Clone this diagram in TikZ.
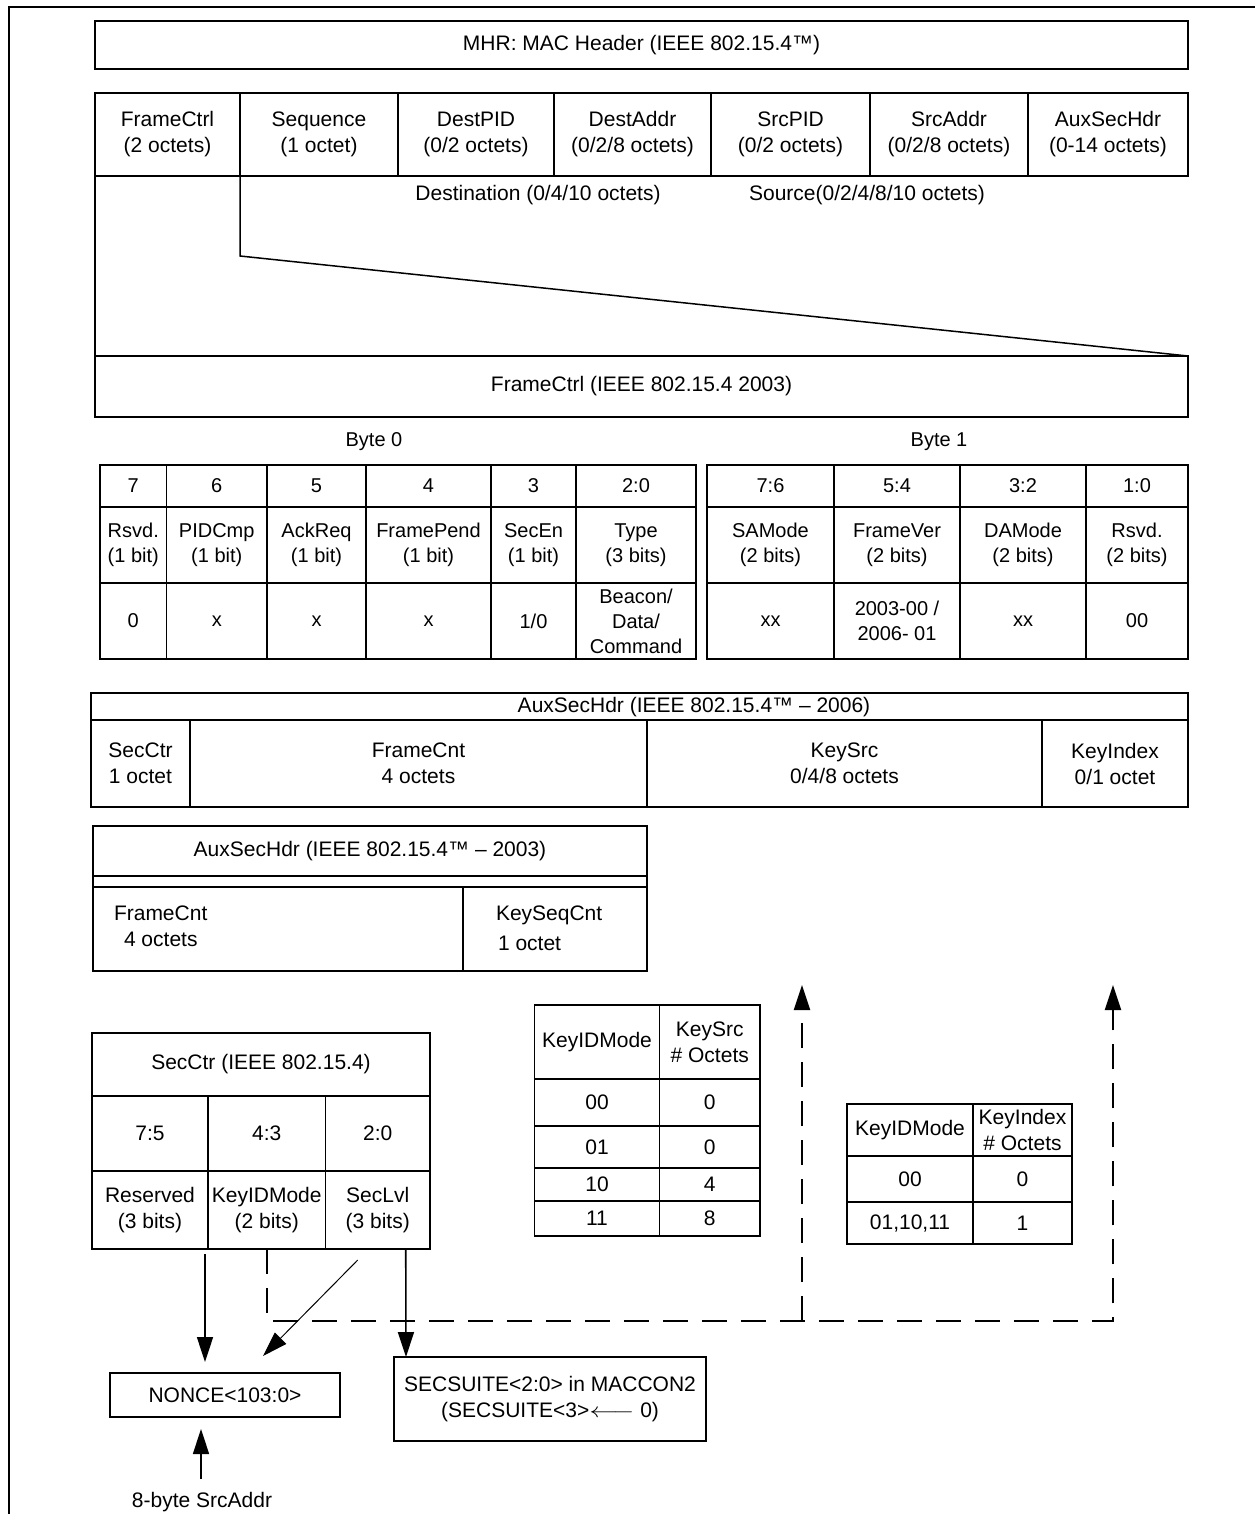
\documentclass[tikz,border=0pt]{standalone}
\usepackage{fontspec}
\setmainfont{Liberation Sans}
\usetikzlibrary{arrows.meta,calc}
\newcommand\fsz{\fontsize{21}{26}\selectfont}
\newcommand\fsb{\fontsize{20}{25}\selectfont}
\tikzset{
  box/.style={draw, line width=1.8pt, inner sep=0pt, outer sep=0pt, align=center, font=\fsz},
  bbox/.style={box, font=\fsb},
  txt/.style={inner sep=0pt, outer sep=0pt, font=\fsz, align=center},
  frame/.style={line width=2pt},
  link/.style={line width=1.5pt},
  arr/.style={line width=1.6pt, -{Triangle[length=25pt,width=16pt]}},
  arrthin/.style={line width=1pt, -{Triangle[length=25pt,width=16pt]}},
  dsh/.style={line width=2pt, dash pattern=on 25pt off 14pt, -{Triangle[length=25pt,width=16pt]}}
}
% [opt]{x1}{y1}{x2}{y2}{name}{text}
\newcommand\cellat[7][]{%
  \pgfmathsetmacro\cellw{#4-#2}%
  \pgfmathsetmacro\cellh{#5-#3}%
  \pgfmathsetmacro\cellx{(#2+#4)/2}%
  \pgfmathsetmacro\celly{(#3+#5)/2}%
  \node[box, minimum width=\cellw pt, minimum height=\cellh pt, #1] (#6) at (\cellx,\celly) {#7};}
\newcommand\larrow{\smash{\scalebox{1.35}[1]{$\longleftarrow$}}}
\begin{document}
\begin{tikzpicture}[x=1pt, y=-1pt]
\useasboundingbox (0,0) rectangle (1255,1514);
% outer frame (top and left)
\draw[frame] (9,1514) -- (9,7) -- (1255,7);

% MAC header
\cellat{95}{21}{1188}{69}{mhr}{MHR: MAC Header (IEEE 802.15.4™)}
\cellat{95}{93}{240}{176}{fFC}{FrameCtrl\\(2 octets)}
\cellat{240}{93}{398}{176}{fSeq}{Sequence\\(1 octet)}
\cellat{398}{93}{554}{176}{fDPID}{DestPID\\(0/2 octets)}
\cellat{554}{93}{711}{176}{fDA}{DestAddr\\(0/2/8 octets)}
\cellat{711}{93}{870}{176}{fSPID}{SrcPID\\(0/2 octets)}
\cellat{870}{93}{1028}{176}{fSA}{SrcAddr\\(0/2/8 octets)}
\cellat{1028}{93}{1188}{176}{fAux}{AuxSecHdr\\(0-14 octets)}
\node[txt] (dest) at (538,195) {Destination (0/4/10 octets)};
\node[txt] (srcl) at (867,195) {Source(0/2/4/8/10 octets)};

\cellat{95}{356}{1188}{417}{fc03}{FrameCtrl (IEEE 802.15.4 2003)}
\draw[link] (fFC.south west) -- (fc03.north west);
\draw[link] (fFC.south east) -- ++(0,80) -- (fc03.north east);

% Byte 0
\node[txt, font=\fsb] (b0) at (374,442) {Byte 0};
\cellat[bbox]{100}{465}{166.5}{507}{b0c7}{7}
\cellat[bbox]{166.5}{465}{267}{507}{b0c6}{6}
\cellat[bbox]{267}{465}{366}{507}{b0c5}{5}
\cellat[bbox]{366}{465}{491}{507}{b0c4}{4}
\cellat[bbox]{491}{465}{576}{507}{b0c3}{3}
\cellat[bbox]{576}{465}{696}{507}{b0c2}{2:0}
\cellat[bbox]{100}{507}{166.5}{583}{b0n7}{Rsvd.\\(1 bit)}
\cellat[bbox]{166.5}{507}{267}{583}{b0n6}{PIDCmp\\(1 bit)}
\cellat[bbox]{267}{507}{366}{583}{b0n5}{AckReq\\(1 bit)}
\cellat[bbox]{366}{507}{491}{583}{b0n4}{FramePend\\(1 bit)}
\cellat[bbox]{491}{507}{576}{583}{b0n3}{SecEn\\(1 bit)}
\cellat[bbox]{576}{507}{696}{583}{b0n2}{Type\\(3 bits)}
\cellat[bbox]{100}{583}{166.5}{659}{b0v7}{0}
\cellat[bbox]{166.5}{583}{267}{659}{b0v6}{x}
\cellat[bbox]{267}{583}{366}{659}{b0v5}{x}
\cellat[bbox]{366}{583}{491}{659}{b0v4}{x}
\cellat[bbox]{491}{583}{576}{659}{b0v3}{1/0}
\cellat[bbox]{576}{583}{696}{659}{b0v2}{Beacon/\\Data/\\Command}

% Byte 1
\node[txt, font=\fsb] (b1) at (939,442) {Byte 1};
\cellat[bbox]{707}{465}{834}{507}{b1c76}{7:6}
\cellat[bbox]{834}{465}{960}{507}{b1c54}{5:4}
\cellat[bbox]{960}{465}{1086}{507}{b1c32}{3:2}
\cellat[bbox]{1086}{465}{1188}{507}{b1c10}{1:0}
\cellat[bbox]{707}{507}{834}{583}{b1n76}{SAMode\\(2 bits)}
\cellat[bbox]{834}{507}{960}{583}{b1n54}{FrameVer\\(2 bits)}
\cellat[bbox]{960}{507}{1086}{583}{b1n32}{DAMode\\(2 bits)}
\cellat[bbox]{1086}{507}{1188}{583}{b1n10}{Rsvd.\\(2 bits)}
\cellat[bbox]{707}{583}{834}{659}{b1v76}{xx}
\cellat[bbox]{834}{583}{960}{659}{b1v54}{2003-00 /\\2006- 01}
\cellat[bbox]{960}{583}{1086}{659}{b1v32}{xx}
\cellat[bbox]{1086}{583}{1188}{659}{b1v10}{00}

% AuxSecHdr 2006
\cellat{91}{693}{1188}{720}{aux06}{}
\node[txt] (aux06t) at (694,707) {AuxSecHdr (IEEE 802.15.4™ – 2006)};
\cellat{91}{720}{190}{807}{a6sc}{SecCtr\\1 octet}
\cellat{190}{720}{647}{807}{a6fc}{FrameCnt\\4 octets}
\cellat{647}{720}{1042}{807}{a6ks}{KeySrc\\0/4/8 octets}
\cellat{1042}{720}{1188}{807}{a6ki}{KeyIndex\\0/1 octet}

% AuxSecHdr 2003
\cellat{93}{826}{647}{876}{aux03}{AuxSecHdr (IEEE 802.15.4™ – 2003)}
\cellat{93}{876}{647}{887}{aux03s}{}
\cellat{93}{887}{463}{971}{a3fc}{}
\cellat{463}{887}{647}{971}{a3ks}{}
\node[txt, anchor=base west] (a3fct) at (114,920) {FrameCnt};
\node[txt, anchor=base west] (a3fco) at (124,946) {4 octets};
\node[txt, anchor=base west] (a3kst) at (496,920) {KeySeqCnt};
\node[txt, anchor=base west] (a3kso) at (498,950) {1 octet};

% SecCtr table
\cellat{92}{1033}{430}{1096}{sc}{SecCtr (IEEE 802.15.4)}
\cellat{92}{1096}{208}{1171}{scb75}{7:5}
\cellat{208}{1096}{325.5}{1171}{scb43}{4:3}
\cellat{325.5}{1096}{430}{1171}{scb20}{2:0}
\cellat{92}{1171}{208}{1249}{scRes}{Reserved\\(3 bits)}
\cellat{208}{1171}{325.5}{1249}{scKey}{KeyIDMode\\(2 bits)}
\cellat{325.5}{1171}{430}{1249}{scLvl}{SecLvl\\(3 bits)}

% KeySrc table
\cellat{534.5}{1005}{659.5}{1079}{ksh1}{KeyIDMode}
\cellat{659.5}{1005}{760}{1079}{ksh2}{KeySrc\\\# Octets}
\cellat{534.5}{1079}{659.5}{1126}{ksa1}{00}
\cellat{659.5}{1079}{760}{1126}{ksa2}{0}
\cellat{534.5}{1126}{659.5}{1168}{ksb1}{01}
\cellat{659.5}{1126}{760}{1168}{ksb2}{0}
\cellat{534.5}{1168}{659.5}{1201}{ksc1}{10}
\cellat{659.5}{1168}{760}{1201}{ksc2}{4}
\cellat{534.5}{1201}{659.5}{1236}{ksd1}{11}
\cellat{659.5}{1201}{760}{1236}{ksd2}{8}

% KeyIndex table
\cellat{847}{1104}{973}{1156}{kih1}{KeyIDMode}
\cellat{973}{1104}{1072}{1156}{kih2}{KeyIndex\\\# Octets}
\cellat{847}{1156}{973}{1202}{kia1}{00}
\cellat{973}{1156}{1072}{1202}{kia2}{0}
\cellat{847}{1202}{973}{1244}{kib1}{01,10,11}
\cellat{973}{1202}{1072}{1244}{kib2}{1}

% outputs
\cellat{110}{1373}{340}{1417}{nonce}{NONCE<103:0>}
\cellat{394}{1357}{706}{1441}{secsuite}{SECSUITE<2:0> in MACCON2\\(SECSUITE<3>\larrow{} 0)}
\node[txt] (srcaddr) at (202,1502) {8-byte SrcAddr};

% arrows
\draw[arr] ([xshift=-3pt,yshift=-5pt]scRes.south east) -- ([xshift=-20pt,yshift=11pt]nonce.north);
\draw[arrthin] ([xshift=-20pt,yshift=-11pt]scLvl.south) -- ([xshift=38pt,yshift=17pt]nonce.north);
\draw[arr] ([xshift=28pt]scLvl.south) -- ([xshift=12pt]secsuite.north west);
\draw[arr] ([xshift=-1pt,yshift=13pt]srcaddr.north) -- ([xshift=-24pt,yshift=-12pt]nonce.south);

% dashed KeyIDMode paths
\coordinate (ksUp) at (802,985);
\coordinate (kiUp) at (1113,985);
\coordinate (dc) at (1113,1321);
\coordinate (dm) at (802,1321);
\draw[dsh] (scKey.south) |- (dc) -- (kiUp);
\draw[dsh] (dm) -- (ksUp);
\end{tikzpicture}
\end{document}
